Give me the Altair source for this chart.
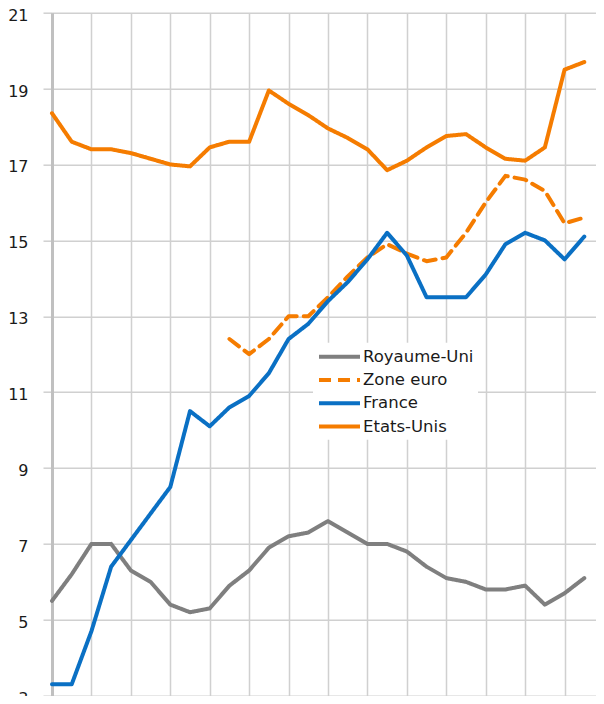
import altair as alt
import pandas as pd

series_names = ["Royaume-Uni", "Zone euro", "France", "Etats-Unis"]
series_colors = ["#7f7f7f", "#f57c00", "#0a70c4", "#f57c00"]
series_dashes = [[1, 0], [12, 7], [1, 0], [1, 0]]
series_widths = [4, 4, 5, 5]

royaume_uni = [5.5, 6.2, 7.0, 7.0, 6.3, 6.0, 5.4, 5.2, 5.3, 5.9, 6.3, 6.9, 7.2, 7.3,
               7.6, 7.3, 7.0, 7.0, 6.8, 6.4, 6.1, 6.0, 5.8, 5.8, 5.9, 5.4, 5.7, 6.1]
zone_euro = [None] * 9 + [12.4, 12.0, 12.4, 13.0, 13.0, 13.5, 14.05, 14.55, 14.9, 14.65,
                          14.45, 14.55, 15.2, 16.0, 16.7, 16.6, 16.3, 15.45, 15.6]
france = [3.3, 3.3, 4.7, 6.4, 7.1, 7.8, 8.5, 10.5, 10.1, 10.6, 10.9, 11.5, 12.4, 12.8,
          13.4, 13.9, 14.5, 15.2, 14.6, 13.5, 13.5, 13.5, 14.1, 14.9, 15.2, 15.0, 14.5, 15.1]
etats_unis = [18.35, 17.6, 17.4, 17.4, 17.3, 17.15, 17.0, 16.95, 17.45, 17.6, 17.6, 18.95,
              18.6, 18.3, 17.95, 17.7, 17.4, 16.85, 17.1, 17.45, 17.75, 17.8, 17.45, 17.15,
              17.1, 17.45, 19.5, 19.7]

y_ticks = [3, 5, 7, 9, 11, 13, 15, 17, 19, 21]
x_grid = list(range(0, 29, 2))

rows = []
for name, vals in zip(series_names, [royaume_uni, zone_euro, france, etats_unis]):
    for i, v in enumerate(vals):
        if v is not None:
            rows.append({"serie": name, "i": i, "v": v})
df = pd.DataFrame(rows)

FONT = "DejaVu Sans"

chart = alt.Chart(df).mark_line(strokeCap="round", strokeJoin="round").encode(
    x=alt.X("i:Q", scale=alt.Scale(domain=[0, 28], nice=False, zero=False),
            axis=alt.Axis(values=x_grid, labels=False, ticks=False, domain=False,
                          grid=True, gridColor="#d0d0d0", gridWidth=1.5, title=None)),
    y=alt.Y("v:Q", scale=alt.Scale(domain=[3, 21], nice=False, zero=False),
            axis=alt.Axis(values=y_ticks, grid=True, gridColor="#d0d0d0", gridWidth=1.5,
                          domainColor="#c0c0c0", domainWidth=3, tickColor="#d0d0d0",
                          tickWidth=1.5, tickSize=9, labelPadding=15, labelFontSize=16,
                          labelOffset=2.5, labelFont=FONT, labelColor="#1a1a1a",
                          title=None)),
    color=alt.Color("serie:N", sort=series_names,
                    scale=alt.Scale(domain=series_names, range=series_colors),
                    legend=alt.Legend(title=None, orient="none", legendX=261, legendY=330,
                                      symbolType="M-1,0H4.125", symbolSize=256,
                                      labelFont=FONT, labelFontSize=16.5,
                                      labelColor="#1a1a1a", labelOffset=26,
                                      rowPadding=4.3, fillColor="white", padding=4)),
    strokeDash=alt.StrokeDash("serie:N", sort=series_names,
                              scale=alt.Scale(domain=series_names, range=series_dashes),
                              legend=alt.Legend(title=None)),
    strokeWidth=alt.StrokeWidth("serie:N", sort=series_names,
                                scale=alt.Scale(domain=series_names, range=series_widths),
                                legend=alt.Legend(title=None)),
    order=alt.Order("i:Q"),
).properties(
    width=552, height=683,
    autosize=alt.AutoSizeParams(type="none"),
    padding={"left": 44, "top": 4.7, "right": -8, "bottom": 0.3},
).configure_view(stroke=None)

chart.save("out.html", embed_options={"renderer": "svg", "actions": False})
